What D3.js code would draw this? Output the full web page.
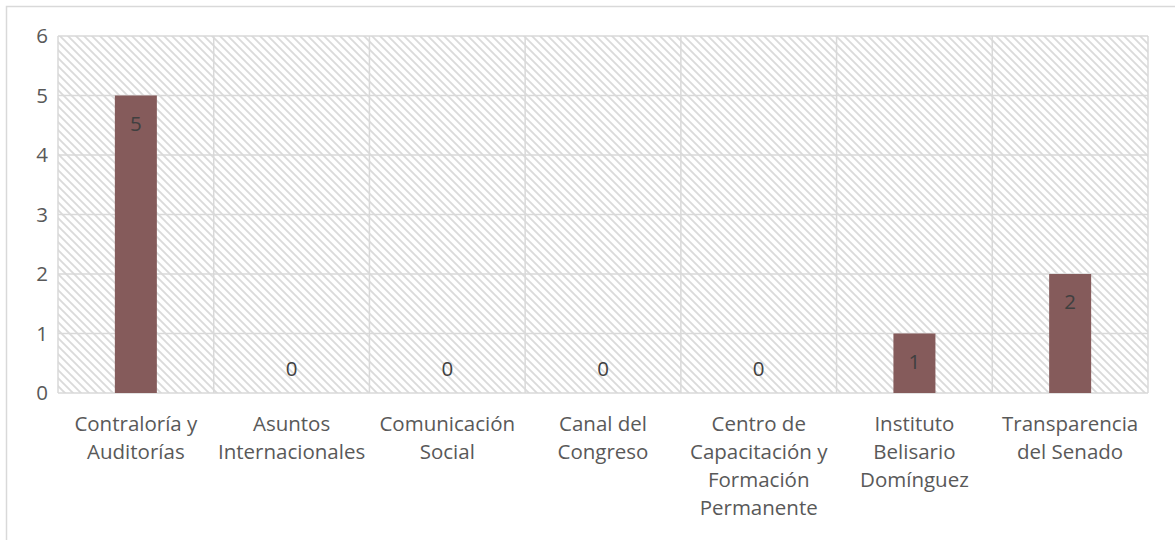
<!DOCTYPE html>
<html><head><meta charset="utf-8">
<script src="https://cdn.jsdelivr.net/npm/d3@7"></script>
<style>body{margin:0;background:#fff}svg{display:block}</style>
</head><body><svg id="c" width="1175" height="540"></svg>
<script>
const categories = [
  ["Contraloría y","Auditorías"],
  ["Asuntos","Internacionales"],
  ["Comunicación","Social"],
  ["Canal del","Congreso"],
  ["Centro de","Capacitación y","Formación","Permanente"],
  ["Instituto","Belisario","Domínguez"],
  ["Transparencia","del Senado"]
];
const values = [5,0,0,0,0,1,2];
const yTicks = [0,1,2,3,4,5,6];

const svg = d3.select("#c");
const font = "'Open Sans', sans-serif";
const fs = 20.5;
const textColor = "#595959";
const gridColor = "#d9d9d9";
const m = {left:58, top:36, right:1148, bottom:393};

const x = d3.scaleBand().domain(d3.range(categories.length)).range([m.left,m.right]).paddingInner(0).paddingOuter(0);
const y = d3.scaleLinear().domain([0,6]).range([m.bottom,m.top]);

// outer border
svg.append("rect").attr("x",6.5).attr("y",6.5).attr("width",1200).attr("height",600)
  .attr("fill","#fff").attr("stroke",gridColor).attr("stroke-width",1.5);

// pattern
const defs = svg.append("defs");
const pat = defs.append("pattern").attr("id","hatch").attr("patternUnits","userSpaceOnUse")
  .attr("width",8).attr("height",8);
pat.append("rect").attr("width",8).attr("height",8).attr("fill","#fff");
pat.append("path").attr("d","M-2,-2 L10,10 M-2,6 L2,10 M6,-2 L10,2")
  .attr("stroke","#dadada").attr("stroke-width",1.8).attr("fill","none");

svg.append("rect").attr("x",m.left).attr("y",m.top).attr("width",m.right-m.left).attr("height",m.bottom-m.top)
  .attr("fill","url(#hatch)");

// horizontal gridlines
svg.append("g").selectAll("line").data(yTicks).join("line")
  .attr("x1",m.left).attr("x2",m.right)
  .attr("y1",d=>y(d)).attr("y2",d=>y(d))
  .attr("stroke",gridColor).attr("stroke-width",1.5);

// vertical gridlines at category boundaries
const bounds = d3.range(categories.length+1).map(i => i<categories.length ? x(i) : m.right);
svg.append("g").selectAll("line").data(bounds).join("line")
  .attr("x1",d=>d).attr("x2",d=>d)
  .attr("y1",m.top).attr("y2",m.bottom)
  .attr("stroke",gridColor).attr("stroke-width",1.5);

// bars
const barW = 42;
svg.append("g").selectAll("rect").data(values).join("rect")
  .attr("x",(d,i)=>x(i)+x.bandwidth()/2-barW/2)
  .attr("width",barW)
  .attr("y",d=>y(d))
  .attr("height",d=>y(0)-y(d))
  .attr("fill","#855b5b");

// data labels
svg.append("g").selectAll("text").data(values).join("text")
  .attr("x",(d,i)=>x(i)+x.bandwidth()/2)
  .attr("y",d=>Math.min(y(d)+28, y(0)-24))
  .attr("dy","0.35em")
  .attr("text-anchor","middle")
  .attr("font-family",font).attr("font-size",fs)
  .attr("fill","#404040")
  .text(d=>d);

// y tick labels
svg.append("g").selectAll("text").data(yTicks).join("text")
  .attr("x",48).attr("y",d=>y(d)).attr("dy","0.35em")
  .attr("text-anchor","end")
  .attr("font-family",font).attr("font-size",fs)
  .attr("fill",textColor)
  .text(d=>d);

// x labels
const xl = svg.append("g").selectAll("text").data(categories).join("text")
  .attr("x",(d,i)=>x(i)+x.bandwidth()/2)
  .attr("y",424)
  .attr("text-anchor","middle")
  .attr("font-family",font).attr("font-size",fs)
  .attr("fill",textColor);
xl.selectAll("tspan").data(d=>d).join("tspan")
  .attr("x",function(){return this.parentNode.getAttribute("x");})
  .attr("dy",(d,i)=> i===0 ? "0.35em" : 28)
  .text(d=>d);
</script></body></html>
